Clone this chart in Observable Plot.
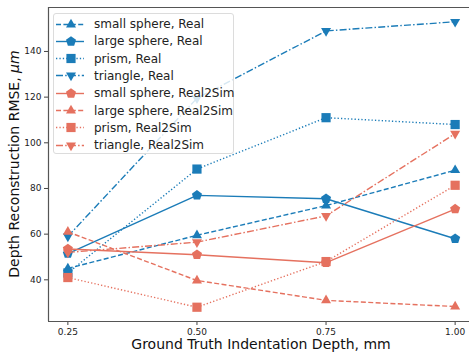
<!DOCTYPE html>
<html>
<head>
<meta charset="utf-8">
<script src="https://cdn.jsdelivr.net/npm/d3@7"></script>
<script src="https://cdn.jsdelivr.net/npm/@observablehq/plot@0.6"></script>
<style>
  html, body { margin: 0; padding: 0; background: #fff; }
  #wrap { position: relative; width: 469px; height: 356px; overflow: hidden; font-family: "DejaVu Sans", sans-serif; }
  #legend { position: absolute; left: 53px; top: 13px; width: 181px; height: 141px; box-sizing: border-box;
    background: rgba(255,255,255,0.82); border: 1px solid #dcdcdc; border-radius: 3px; }
  .row { position: absolute; left: 0; height: 17px; display: flex; align-items: center; }
  .row span { font-size: 12px; color: #222; margin-left: 10px; white-space: nowrap; }
</style>
</head>
<body>
<div id="wrap"><div id="legend"></div></div>
<script>
// ---- data ----
const depths = [0.25, 0.5, 0.75, 1.0];
const seriesNames = [
  "small sphere, Real", "large sphere, Real", "prism, Real", "triangle, Real",
  "small sphere, Real2Sim", "large sphere, Real2Sim", "prism, Real2Sim", "triangle, Real2Sim"
];
const realSmallSphere = [45, 59.5, 72.5, 88];
const realLargeSphere = [51.5, 77, 75.5, 58];
const realPrism = [43, 88.5, 111, 108];
const realTriangle = [59, 119.5, 149, 153];
const simSmallSphere = [53.5, 51, 47.5, 71];
const simLargeSphere = [61, 39.7, 31, 28.3];
const simPrism = [41, 28, 48, 81.4];
const simTriangle = [52, 56.5, 68, 104];
const yTicks = [40, 60, 80, 100, 120, 140];

const seriesValues = [realSmallSphere, realLargeSphere, realPrism, realTriangle,
                      simSmallSphere, simLargeSphere, simPrism, simTriangle];

// ---- styles ----
const BLUE = "#1b7cb8";
const RED = "#e5715f";
const DASH = { dashed: "5,2.4", solid: null, dotted: "1.3,2.1", dashdot: "7,2.2,1.5,2.2" };

const triUp = { draw(c) { const s = 10, h = s * Math.sqrt(3) / 2;
  c.moveTo(0, -2 * h / 3); c.lineTo(s / 2, h / 3); c.lineTo(-s / 2, h / 3); c.closePath(); } };
const triDown = { draw(c) { const s = 10, h = s * Math.sqrt(3) / 2;
  c.moveTo(0, 2 * h / 3); c.lineTo(s / 2, -h / 3); c.lineTo(-s / 2, -h / 3); c.closePath(); } };
const square = { draw(c) { const a = 4.6; c.moveTo(-a, -a); c.lineTo(a, -a); c.lineTo(a, a); c.lineTo(-a, a); c.closePath(); } };
const pentagon = { draw(c) { const R = 5.3;
  for (let i = 0; i < 5; i++) { const a = -Math.PI / 2 + i * 2 * Math.PI / 5;
    const x = R * Math.cos(a), y = R * Math.sin(a); i ? c.lineTo(x, y) : c.moveTo(x, y); }
  c.closePath(); } };

const styles = [
  { color: BLUE, dash: DASH.dashed, sym: triUp },
  { color: BLUE, dash: DASH.solid, sym: pentagon },
  { color: BLUE, dash: DASH.dotted, sym: square },
  { color: BLUE, dash: DASH.dashdot, sym: triDown },
  { color: RED, dash: DASH.solid, sym: pentagon },
  { color: RED, dash: DASH.dashed, sym: triUp },
  { color: RED, dash: DASH.dotted, sym: square },
  { color: RED, dash: DASH.dashdot, sym: triDown }
];

const marks = [];
seriesValues.forEach((vals, i) => {
  const data = depths.map((d, j) => ({ x: d, y: vals[j] }));
  const st = styles[i];
  marks.push(Plot.line(data, { x: "x", y: "y", stroke: st.color, strokeWidth: 1.4,
    strokeDasharray: st.dash, strokeLinecap: "butt" }));
  marks.push(Plot.dot(data, { x: "x", y: "y", symbol: st.sym, r: 5, fill: st.color, stroke: "none" }));
});

const xDomain = [0.2125, 1.0375];
const yDomain = [21.75, 159.25];

const chart = Plot.plot({
  width: 469, height: 356,
  marginLeft: 48, marginRight: 0, marginTop: 7, marginBottom: 35,
  style: { fontFamily: "DejaVu Sans, sans-serif", background: "transparent", color: "#222" },
  x: { domain: xDomain, range: [48, 474] },
  y: { domain: yDomain },
  marks: [
    Plot.axisY({ ticks: yTicks, tickSize: 4, tickPadding: 3, fontSize: 9, label: null, stroke: "#444" }),
    Plot.axisX({ ticks: depths, tickFormat: d3.format(".2f"), tickSize: 4, tickPadding: 3, fontSize: 9, label: null, stroke: "#444" }),
    ...marks,
    Plot.ruleX([xDomain[0]], { stroke: "#555", strokeWidth: 1.2 }),
    Plot.ruleY(yDomain, { stroke: "#555", strokeWidth: 1.2 })
  ]
});

// axis titles as real text
const svg = d3.select(chart);
svg.append("text")
  .attr("x", 261).attr("y", 349)
  .attr("text-anchor", "middle")
  .attr("font-size", 14).attr("fill", "#111")
  .attr("font-family", "DejaVu Sans, sans-serif")
  .text("Ground Truth Indentation Depth, mm");
const yl = svg.append("text")
  .attr("transform", "translate(19,164) rotate(-90)")
  .attr("text-anchor", "middle")
  .attr("font-size", 14).attr("fill", "#111")
  .attr("font-family", "DejaVu Sans, sans-serif");
yl.append("tspan").text("Depth Reconstruction RMSE, ");
yl.append("tspan").attr("font-style", "italic").text("μm");

const wrap = document.getElementById("wrap");
wrap.insertBefore(chart, wrap.firstChild);

// legend (HTML overlay)
const legend = d3.select("#legend");
seriesNames.forEach((name, i) => {
  const st = styles[i];
  const row = legend.append("div").attr("class", "row")
    .style("top", (1.5 + i * 17.3) + "px").style("left", "2px");
  const ic = row.append("svg").attr("width", 28).attr("height", 17);
  ic.append("line").attr("x1", 0).attr("x2", 28).attr("y1", 8.5).attr("y2", 8.5)
    .attr("stroke", st.color).attr("stroke-width", 1.4)
    .attr("stroke-dasharray", st.dash);
  const p = d3.path(); st.sym.draw(p);
  ic.append("path").attr("d", p.toString()).attr("transform", "translate(15,8.5)").attr("fill", st.color);
  row.append("span").text(name);
});
</script>
</body>
</html>
